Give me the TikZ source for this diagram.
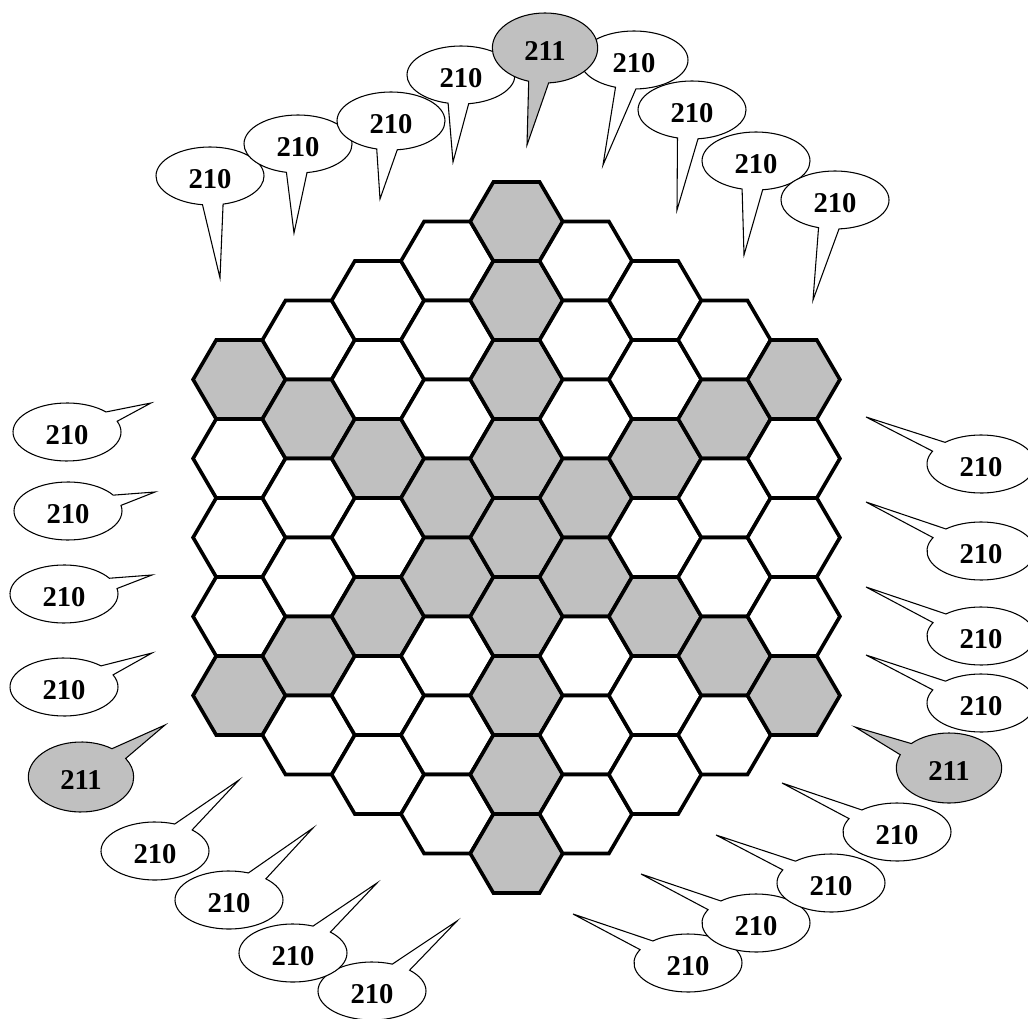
\documentclass[tikz,border=0pt]{standalone}
\usepackage{fontspec}
\setmainfont{Liberation Serif}
\usetikzlibrary{shapes.callouts}
\definecolor{shade}{RGB}{192,192,192}
\tikzset{
  hexcell/.style={draw=black, line width=2.7pt, line join=miter},
  bub/.style={ellipse callout, draw=black, line width=0.8pt, fill=white, inner sep=0pt,
    minimum width=81pt, minimum height=43.5pt, callout pointer arc=22,
    text height=19pt, text depth=0pt, font=\bfseries\fontsize{21.5}{24}\selectfont},
  bubg/.style={bub, fill=shade, minimum width=79pt, minimum height=52.5pt},
}
\newcommand{\lbl}[1]{#1\hspace{6pt}}
\begin{document}
\begin{tikzpicture}[x=0.75pt,y=-0.75pt]
\useasboundingbox (0,0) rectangle (1028,1019);
\clip (0,0) rectangle (1028,1019);
\def\hs{46.2}\def\hh{39.5}\def\cs{69.3}
\foreach \c in {-4,...,4}{
  \pgfmathtruncatemacro\n{8-abs(\c)}
  \foreach \k in {0,...,\n}{
    \pgfmathsetmacro\cx{516.5+(\c)*\cs}
    \pgfmathsetmacro\cy{537.5+(\k-\n/2)*79}
    \pgfmathtruncatemacro\sh{(\c==0)+(abs(\k-\n/2-(\c)/2)<0.01)+(abs(\k-\n/2+(\c)/2)<0.01)}
    \ifnum\sh>0 \def\fc{shade}\else\def\fc{white}\fi
    \draw[hexcell, fill=\fc] (\cx-\hs,\cy) -- (\cx-\hs/2,\cy-\hh) -- (\cx+\hs/2,\cy-\hh)
      -- (\cx+\hs,\cy) -- (\cx+\hs/2,\cy+\hh) -- (\cx-\hs/2,\cy+\hh) -- cycle;
  }
}
% top arc
\node[bub, callout absolute pointer={(220,278)}] (t1) at (210,176) {\lbl{210}};
\node[bub, callout absolute pointer={(294,233)}] (t2) at (298,144) {\lbl{210}};
\node[bub, callout absolute pointer={(380,199)}] (t3) at (391,121) {\lbl{210}};
\node[bub, callout absolute pointer={(453,162)}] (t4) at (461,75) {\lbl{210}};
\node[bub, callout absolute pointer={(603,165)}] (t6) at (634,60) {\lbl{210}};
\node[bub, callout absolute pointer={(677,210)}] (t7) at (692,110) {\lbl{210}};
\node[bub, callout absolute pointer={(744,255)}] (t8) at (756,161) {\lbl{210}};
\node[bub, callout absolute pointer={(813,300)}] (t9) at (835,200) {\lbl{210}};
\node[bubg, callout absolute pointer={(527,145)}] (t5) at (545,48) {\lbl{211}};
% left
\node[bub, callout absolute pointer={(151,403)}] (l1) at (67,432) {\lbl{210}};
\node[bub, callout absolute pointer={(155,492)}] (l2) at (68,511) {\lbl{210}};
\node[bub, callout absolute pointer={(152,575)}] (l3) at (64,594) {\lbl{210}};
\node[bub, callout absolute pointer={(152,653)}] (l4) at (64,687) {\lbl{210}};
\node[bubg, callout absolute pointer={(165,725)}] (l5) at (81,777) {\lbl{211}};
% bottom left
\node[bub, callout absolute pointer={(457,921)}] (b4) at (372,991) {\lbl{210}};
\node[bub, callout absolute pointer={(377,883)}] (b3) at (293,953) {\lbl{210}};
\node[bub, callout absolute pointer={(313,828)}] (b2) at (229,900) {\lbl{210}};
\node[bub, callout absolute pointer={(239,780)}] (b1) at (155,851) {\lbl{210}};
% right
\node[bub, callout absolute pointer={(866,417)}] (r1) at (981,464) {\lbl{210}};
\node[bub, callout absolute pointer={(866,502)}] (r2) at (981,551) {\lbl{210}};
\node[bub, callout absolute pointer={(866,587)}] (r3) at (981,636) {\lbl{210}};
\node[bub, callout absolute pointer={(866,655)}] (r4) at (981,703) {\lbl{210}};
% bottom right
\node[bub, callout absolute pointer={(573,914)}] (d4) at (688,963) {\lbl{210}};
\node[bub, callout absolute pointer={(641,874)}] (d3) at (756,923) {\lbl{210}};
\node[bub, callout absolute pointer={(716,835)}] (d2) at (831,883) {\lbl{210}};
\node[bub, callout absolute pointer={(782,783)}] (d1) at (897,832) {\lbl{210}};
\node[bubg, callout absolute pointer={(855,727)}] (r5) at (949,768) {\lbl{211}};
\end{tikzpicture}
\end{document}
